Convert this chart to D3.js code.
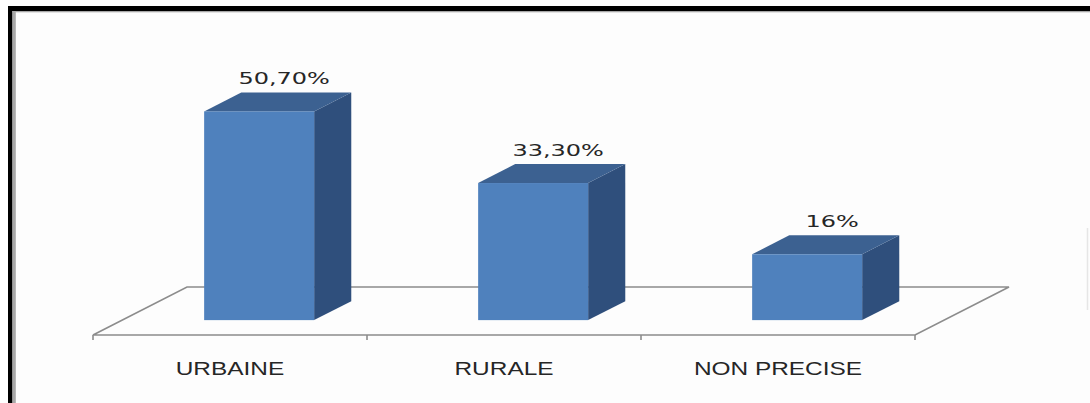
<!DOCTYPE html>
<html>
<head>
<meta charset="utf-8">
<script src="https://cdn.jsdelivr.net/npm/d3@7/dist/d3.min.js"></script>
<style>
  html, body { margin: 0; padding: 0; background: #ffffff; }
  svg { display: block; }
</style>
</head>
<body>
<svg id="chart" width="1090" height="403"></svg>
<script>
// ---- data ----
const categories = ["URBAINE", "RURALE", "NON PRECISE"];
const values = [50.7, 33.3, 16];
const valueLabels = ["50,70%", "33,30%", "16%"];

// ---- layout ----
const W = 1090, H = 403;
const svg = d3.select("#chart");

// frame
svg.append("rect").attr("x", 0).attr("y", 0).attr("width", W).attr("height", H).attr("fill", "#ffffff");
svg.append("rect").attr("x", 12).attr("y", 11).attr("width", W - 12).attr("height", H - 11).attr("fill", "#fdfdfd");
svg.append("rect").attr("x", 8).attr("y", 6).attr("width", W - 8).attr("height", 5).attr("fill", "#000");
svg.append("rect").attr("x", 8).attr("y", 6).attr("width", 4.5).attr("height", H - 6).attr("fill", "#000");
svg.append("rect").attr("x", 12.5).attr("y", 11).attr("width", W - 12.5).attr("height", 1.3).attr("fill", "#a8a8a8");
svg.append("rect").attr("x", 12.5).attr("y", 11).attr("width", 3.3).attr("height", H - 11).attr("fill", "#a8a8a8");
// faint edge at right (cut-off legend)
svg.append("line").attr("x1", 1087.5).attr("x2", 1087.5).attr("y1", 228).attr("y2", 310)
  .attr("stroke", "#e6e6e6").attr("stroke-width", 1.5);

const floorFront = 335;
const x = d3.scaleBand().domain(categories).range([93, 915]).paddingInner(0).paddingOuter(0);
const depth = { dx: 94, dy: -48 };          // floor depth vector
const barFrontFrac = 0.31, barBackFrac = 0.705;
const barWidth = 110;

const y = d3.scaleLinear().domain([0, 60]).range([0, 247]);

// floor
const fx0 = x.range()[0], fx1 = x.range()[1];
const floorPts = [
  [fx0, floorFront], [fx1, floorFront],
  [fx1 + depth.dx, floorFront + depth.dy], [fx0 + depth.dx, floorFront + depth.dy]
];
svg.append("polygon")
  .attr("points", floorPts.map(p => p.join(",")).join(" "))
  .attr("fill", "none").attr("stroke", "#8c8c8c").attr("stroke-width", 1.6)
  .attr("stroke-linejoin", "miter");

// ticks
const tickXs = categories.map(c => x(c)).concat([fx1]);
svg.selectAll("line.tick").data(tickXs).enter().append("line")
  .attr("class", "tick")
  .attr("x1", d => d).attr("x2", d => d)
  .attr("y1", floorFront).attr("y2", floorFront + 5)
  .attr("stroke", "#8c8c8c").attr("stroke-width", 1.6);

// bars
const fdx = depth.dx * barFrontFrac, fdy = depth.dy * barFrontFrac;
const bdx = depth.dx * (barBackFrac - barFrontFrac), bdy = depth.dy * (barBackFrac - barFrontFrac);

const bars = svg.selectAll("g.bar").data(categories.map((c, i) => ({ c, v: values[i], lab: valueLabels[i] })))
  .enter().append("g").attr("class", "bar");

bars.each(function (d) {
  const g = d3.select(this);
  const cx = x(d.c) + x.bandwidth() / 2 + fdx;
  const x0 = cx - barWidth / 2, x1 = cx + barWidth / 2;
  const yb = floorFront + fdy;
  const yt = yb - y(d.v);
  // side face
  g.append("polygon")
    .attr("points", [[x1, yt], [x1 + bdx, yt + bdy], [x1 + bdx, yb + bdy], [x1, yb]].map(p => p.join(",")).join(" "))
    .attr("fill", "#2f4f7c");
  // top face
  g.append("polygon")
    .attr("points", [[x0, yt], [x0 + bdx, yt + bdy], [x1 + bdx, yt + bdy], [x1, yt]].map(p => p.join(",")).join(" "))
    .attr("fill", "#3c6191");
  // front face
  g.append("rect")
    .attr("x", x0).attr("y", yt).attr("width", barWidth).attr("height", y(d.v))
    .attr("fill", "#4f81bd");
  // value label
  g.append("text")
    .attr("transform", `translate(${cx + 25},${yt + bdy - 8}) scale(1.5,1)`)
    .attr("text-anchor", "middle")
    .attr("font-family", "DejaVu Sans, sans-serif")
    .attr("font-size", 16)
    .attr("fill", "#262626")
    .text(d.lab);
});

// category labels
svg.selectAll("text.cat").data(categories).enter().append("text")
  .attr("class", "cat")
  .attr("transform", d => `translate(${x(d) + x.bandwidth() / 2},${375}) scale(1.32,1)`)
  .attr("text-anchor", "middle")
  .attr("font-family", "Liberation Sans, Arial, sans-serif")
  .attr("font-size", 18.5)
  .attr("fill", "#262626")
  .text(d => d);
</script>
</body>
</html>
